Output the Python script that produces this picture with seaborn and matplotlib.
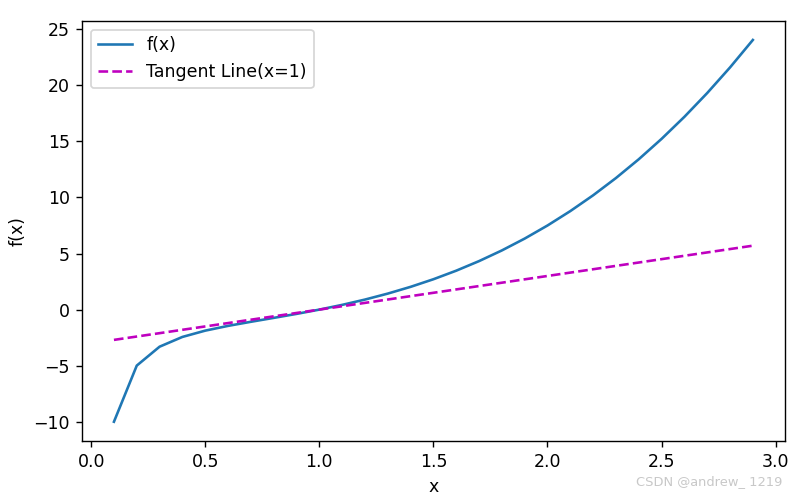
import matplotlib
matplotlib.use("Agg")
import matplotlib.pyplot as plt
import seaborn as sns
import pandas as pd

x = [0.1, 0.2, 0.3, 0.4, 0.5, 0.6, 0.7, 0.8, 0.9, 1.0,
     1.1, 1.2, 1.3, 1.4, 1.5, 1.6, 1.7, 1.8, 1.9, 2.0,
     2.1, 2.2, 2.3, 2.4, 2.5, 2.6, 2.7, 2.8, 2.9]
fx = [-9.999, -4.992, -3.306, -2.436, -1.875, -1.451, -1.086, -0.738, -0.382, 0.0,
      0.422, 0.895, 1.428, 2.030, 2.708, 3.471, 4.325, 5.276, 6.333, 7.5,
      8.785, 10.193, 11.732, 13.407, 15.225, 17.191, 19.313, 21.595, 24.044]
tangent = [-2.7, -2.4, -2.1, -1.8, -1.5, -1.2, -0.9, -0.6, -0.3, 0.0,
           0.3, 0.6, 0.9, 1.2, 1.5, 1.8, 2.1, 2.4, 2.7, 3.0,
           3.3, 3.6, 3.9, 4.2, 4.5, 4.8, 5.1, 5.4, 5.7]

df = pd.DataFrame({"x": x, "f": fx, "t": tangent})

fig = plt.figure(figsize=(6.4, 3.976), dpi=125)
ax = fig.add_axes([0.1025, 0.113, 0.8785, 0.845])
sns.lineplot(data=df, x="x", y="f", ax=ax, color="#1f77b4", label="f(x)")
sns.lineplot(data=df, x="x", y="t", ax=ax, color="m", linestyle="--", label="Tangent Line(x=1)")
ax.set_xlabel("x")
ax.set_ylabel("f(x)")
ax.legend(loc="upper left")
fig.text(0.978, 0.018, "CSDN @andrew_ 1219", ha="right", va="bottom", color="#c8c8c8", fontsize=7.5)
fig.savefig("out.png", dpi=125)
